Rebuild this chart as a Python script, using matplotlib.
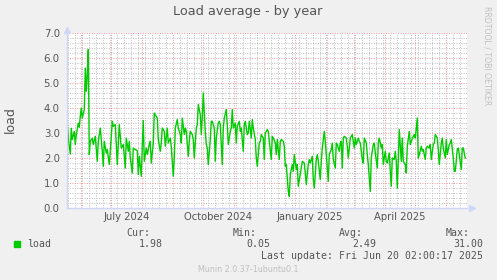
import numpy as np
import matplotlib
matplotlib.use("Agg")
import matplotlib.pyplot as plt
import matplotlib.dates as mdates
from matplotlib.ticker import MultipleLocator, FormatStrFormatter

# daily load averages, x = days after 2024-05-16
start = np.datetime64("2024-05-16")
days = [2, 3, 5, 6, 7, 9, 10, 11, 13, 14, 15, 16, 17, 19, 20, 21, 22, 23, 24, 25,
        27, 28, 30, 32, 33, 35, 37, 38, 39, 41, 42, 44, 45, 47, 48, 50, 52,
        54, 56, 57, 58, 60, 61, 63, 64, 65, 67, 68, 70, 72, 73, 74, 76, 77, 78,
        79, 81, 82, 84, 85, 86, 88, 89, 91, 92, 93, 95, 96, 97, 99, 100, 102,
        103, 105, 106, 108, 109, 110,
        112, 113, 115, 116, 117, 119, 120, 121, 123, 124, 125, 127, 128, 129,
        131, 132, 133, 135, 136, 137, 138, 140, 141, 142, 143, 145, 146, 147,
        149, 150, 151, 153, 154, 155, 157, 158, 159, 161, 162, 163, 165, 166,
        167, 168, 170, 171, 172, 174, 175, 176, 178, 179, 180, 182, 183, 184,
        186, 187, 188, 190, 191, 192, 194, 195, 196, 198, 199, 200, 202, 203,
        204, 206, 207, 208, 210, 211, 212, 214, 215, 216, 218, 219, 220,
        221, 223, 224, 225, 227, 228, 229, 231, 232, 233, 235, 236, 237, 239,
        240, 241, 243, 244, 245, 247, 248, 249, 251, 252, 253, 255, 256, 257,
        259, 260, 262, 263, 264, 266, 267, 268, 270, 271, 272, 274, 275, 276,
        277, 278, 279, 281, 282, 283, 285, 286, 287, 289, 290, 291, 293, 294,
        295, 297, 298, 299, 301, 302, 303, 305, 306, 308, 309, 310, 312, 313,
        314, 316, 317, 318, 320, 321, 322, 324, 325, 326, 327, 329, 330, 331,
        332, 333, 334, 336, 337, 338, 340, 341, 342, 344, 345, 346, 348, 349,
        350, 352, 353, 354, 356, 357, 358, 360, 361, 362, 364, 365, 366, 368,
        369, 370, 372, 373, 374, 376, 377, 378, 380, 381, 382, 384, 385, 386,
        388, 389, 390, 392, 393, 394, 396, 397, 398, 400]
load = [3.41, 2.81, 2.17, 3.2, 2.75, 3.08, 2.55, 2.95, 3.41, 3.24, 3.68, 4.01, 3.61, 3.95, 5.61, 4.68, 5.35, 6.35, 2.15, 2.68,
        2.81, 2.55, 2.88, 1.88, 2.68, 3.21, 2.28, 1.68, 2.68, 2.21, 2.35, 1.75, 2.28, 3.48, 3.28, 3.35, 1.75,
        3.35, 2.41, 2.48, 2.55, 1.61, 2.81, 2.28, 2.68, 2.01, 1.41, 2.41, 2.35, 2.31, 1.35, 2.08, 1.28, 2.48, 3.51,
        1.88, 2.41, 2.15, 2.55, 2.68, 1.81, 2.61, 3.81, 3.68, 3.61, 2.75, 2.28, 2.61, 3.21, 3.08, 2.48, 3.21,
        2.61, 2.81, 2.48, 1.28, 2.01, 3.21,
        3.55, 3.21, 2.95, 2.61, 3.61, 2.95, 3.21, 3.08, 2.08, 2.68, 3.08, 2.95, 2.75, 2.01,
        3.21, 3.35, 4.15, 3.75, 2.95, 3.61, 4.61, 3.08, 2.55, 2.41, 1.75, 2.75, 3.48, 3.48,
        3.21, 1.88, 2.81, 3.41, 3.48, 3.35, 1.75, 3.21, 3.61, 3.95, 3.35, 2.55, 3.08, 3.21,
        3.95, 3.21, 3.41, 2.61, 3.28, 3.48, 3.08, 3.21, 2.28, 3.35, 3.48, 2.95, 3.01, 3.48,
        2.81, 3.55, 3.21, 2.75, 2.01, 1.68, 2.61, 2.68, 2.95, 2.81, 1.95, 3.01, 3.15, 3.08,
        2.68, 1.95, 2.88, 2.81, 2.61, 2.15, 2.75, 1.95, 2.68, 2.75, 2.68, 2.48, 1.68,
        1.75, 0.68, 0.48, 1.35, 1.75, 1.48, 2.15, 1.55, 1.75, 0.88, 1.35, 1.61, 1.88, 1.81,
        1.41, 0.95, 1.75, 1.95, 1.81, 2.08, 1.15, 0.81, 1.95, 2.15, 1.88, 1.15, 1.88, 2.41,
        3.08, 2.68, 1.61, 1.08, 2.15, 2.35, 2.61, 1.95, 1.61, 2.61, 2.55, 2.28, 2.61, 2.68,
        1.61, 2.81, 2.88, 2.81, 2.48, 2.01, 2.81, 2.88, 2.95, 2.41, 2.81, 2.55, 2.81, 2.68,
        2.61, 1.95, 1.81, 2.81, 2.61, 2.15, 1.75, 0.68, 2.01, 2.55, 2.61, 2.21, 1.61, 2.61,
        2.81, 2.41, 2.55, 1.75, 2.28, 1.88, 1.81, 2.21, 1.48, 0.88, 2.01, 1.95, 2.28, 1.88,
        0.81, 1.88, 3.15, 1.88, 2.81, 1.88, 1.75, 1.41, 2.48, 3.08, 2.55, 2.68, 2.88, 2.95,
        2.81, 3.61, 2.01, 2.15, 2.48, 2.28, 2.35, 1.95, 2.41, 2.48, 2.41, 2.55, 1.95, 2.55,
        2.61, 2.95, 2.81, 2.35, 1.75, 2.61, 2.81, 2.41, 2.01, 2.75, 2.15, 2.55, 2.61, 2.75,
        2.01, 1.48, 1.48, 2.35, 2.41, 2.15, 1.55, 2.41, 2.41, 2.01]

month_labels = ["July 2024", "October 2024", "January 2025", "April 2025"]
label_dates = ["2024-07-16", "2024-10-16", "2025-01-15", "2025-04-15"]

legend_name = "load"
stat_names = ["Cur:", "Min:", "Avg:", "Max:"]
stat_values = ["1.98", "0.05", "2.49", "31.00"]
last_update = "Last update: Fri Jun 20 02:00:17 2025"

BACK = "#F0F0F0"
TXT = "#555555"
AXIS = "#CFD6F8"
MGRID = "#EE9A9A"
GRID = "#BDBDBD"

W, H = 497, 280
fig = plt.figure(figsize=(W / 100, H / 100), dpi=100, facecolor=BACK)
ax = fig.add_axes([66.7 / W, 1 - 208.3 / H, 400 / W, 175 / H])
ax.set_facecolor("white")

x = start + np.array(days).astype("timedelta64[D]")
ax.plot(x.astype("datetime64[s]").astype(object), load, color="#00CC00", lw=1.0)

x0 = mdates.date2num(np.datetime64("2024-05-17T10:00"))
ax.set_xlim(x0, x0 + 400)
ax.set_ylim(0, 7)

ax.xaxis.set_major_locator(mdates.MonthLocator())
ax.xaxis.set_minor_locator(mdates.WeekdayLocator(byweekday=mdates.SU))
ax.xaxis.set_major_formatter(plt.NullFormatter())
ax.yaxis.set_major_locator(MultipleLocator(1))
ax.yaxis.set_minor_locator(MultipleLocator(0.2))
ax.yaxis.set_major_formatter(FormatStrFormatter("%.1f"))

ax.grid(which="minor", color=GRID, lw=0.7, ls=(0, (1, 1.5)))
ax.grid(which="major", color=MGRID, lw=0.7, ls=(0, (1, 1.5)))
ax.set_axisbelow(True)
ax.tick_params(which="both", length=0, colors=TXT, labelsize=7.3)
ax.tick_params(axis="y", pad=5)

for s in ["top", "right"]:
    ax.spines[s].set_visible(False)
for s in ["left", "bottom"]:
    ax.spines[s].set_color(AXIS)
    ax.spines[s].set_linewidth(1)
ax.plot(1.012, 0, ">", color=AXIS, ms=4, transform=ax.transAxes, clip_on=False)
ax.plot(0, 1.02, "^", color=AXIS, ms=4, transform=ax.transAxes, clip_on=False)

sec = ax.secondary_xaxis("bottom")
sec.set_xticks([mdates.date2num(np.datetime64(d)) for d in label_dates])
sec.set_xticklabels(month_labels)
sec.tick_params(length=0, colors=TXT, labelsize=7.2, pad=2.5)
sec.spines["bottom"].set_visible(False)

fig.text(248 / W, 1 - 12 / H, "Load average - by year", ha="center", va="center",
         fontsize=9.3, color=TXT)
fig.text(10 / W, 1 - 120 / H, "load", rotation=90, ha="center", va="center",
         fontsize=9, color=TXT)
fig.text(487 / W, 1 - 56 / H, "RRDTOOL / TOBI OETIKER", rotation=270, ha="center",
         va="center", fontsize=5.6, color="#C0C0C0")

mono = dict(family="DejaVu Sans Mono", fontsize=7.1, color=TXT)
fig.patches.append(plt.Rectangle((14 / W, 1 - 247 / H), 6 / W, 6 / H,
                                 transform=fig.transFigure, color="#00CC00"))
fig.text(27 / W, 1 - 244 / H, legend_name, ha="left", va="center", **mono)
stat_x = [150, 257, 363, 470]
for name, val, sx in zip(stat_names, stat_values, stat_x):
    fig.text(sx / W, 1 - 233 / H, name, ha="right", va="center", **mono)
    fig.text((sx + 13) / W, 1 - 244 / H, val, ha="right", va="center", **mono)
fig.text(483 / W, 1 - 256 / H, last_update, ha="right", va="center", **mono)
fig.text(248 / W, 1 - 269 / H, "Munin 2.0.37-1ubuntu0.1", ha="center", va="center",
         fontsize=5.75, color="#C0C0C0")

fig.savefig("out.png", dpi=100, facecolor=BACK)
